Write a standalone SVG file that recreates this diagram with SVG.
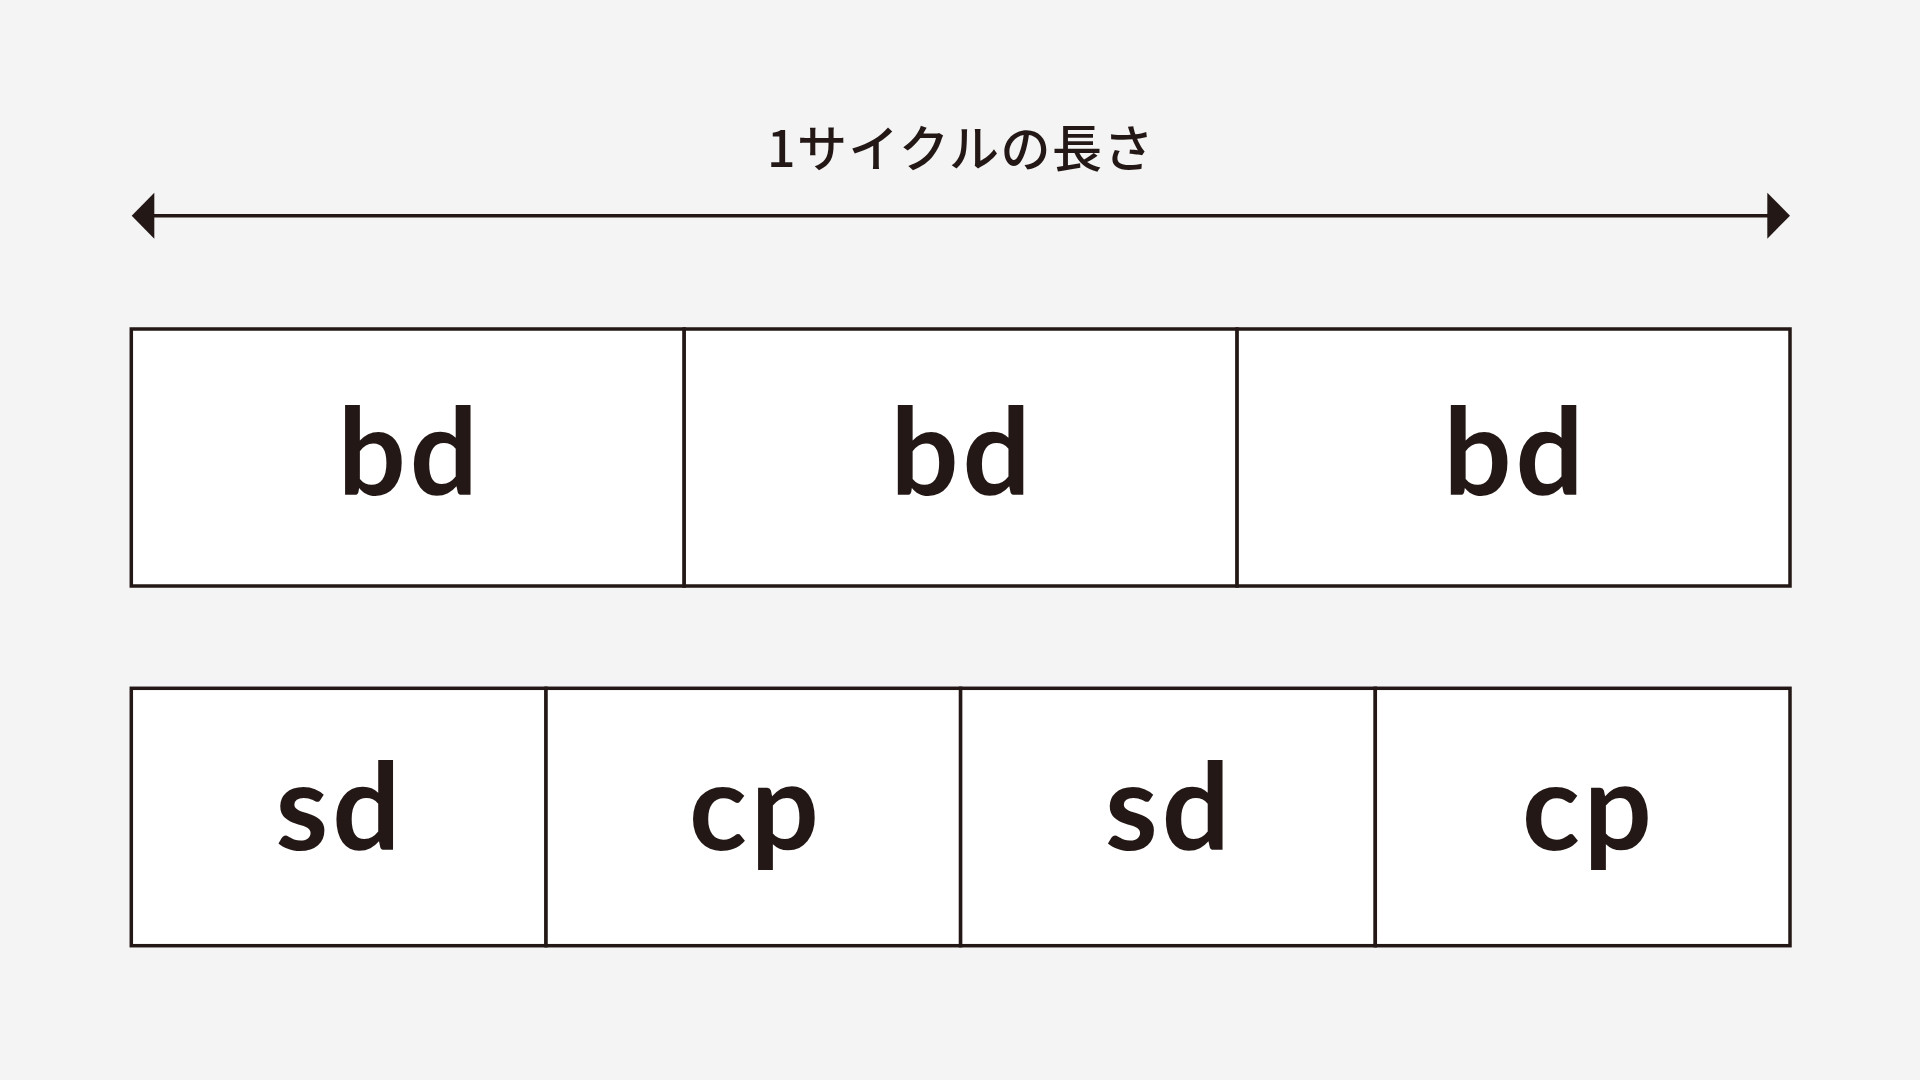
<svg xmlns="http://www.w3.org/2000/svg" width="1920" height="1080" viewBox="0 0 1920 1080">
  <style>
    .cell { fill: #ffffff; stroke: #231815; stroke-width: 3.5; }
    .lbl { font-family: Lato, "Noto Sans", "Liberation Sans", sans-serif; font-weight: 700; font-size: 120px; fill: #231815; text-anchor: middle; letter-spacing: 4px; }
    .title { font-family: "Noto Sans CJK JP", "Noto Sans", sans-serif; font-weight: 500; font-size: 50px; fill: #231815; text-anchor: middle; letter-spacing: 1.5px; }
    .conn { stroke: #231815; stroke-width: 3.5; fill: none; }
    .head { fill: #231815; }
  </style>
  <rect width="1920" height="1080" fill="#f4f4f4"/>

  <g id="title">
    <text class="title" x="961" y="167">1サイクルの長さ</text>
  </g>

  <g id="connectors">
    <line class="conn" x1="140" y1="215.7" x2="1782" y2="215.7"/>
    <polygon class="head" points="131.7,215.7 154.3,192.7 154.3,238.7"/>
    <polygon class="head" points="1790,215.7 1767.3,192.7 1767.3,238.7"/>
  </g>

  <g id="row1">
    <g id="bd1">
      <rect class="cell" x="131.3" y="329" width="552.9" height="257"/>
      <text class="lbl" x="409.8" y="495">bd</text>
    </g>
    <g id="bd2">
      <rect class="cell" x="684.2" y="329" width="552.9" height="257"/>
      <text class="lbl" x="962.6" y="495">bd</text>
    </g>
    <g id="bd3">
      <rect class="cell" x="1237.1" y="329" width="552.9" height="257"/>
      <text class="lbl" x="1515.5" y="495">bd</text>
    </g>
  </g>

  <g id="row2">
    <g id="sd1">
      <rect class="cell" x="131.3" y="688.3" width="414.7" height="257.4"/>
      <text class="lbl" x="340" y="850">sd</text>
    </g>
    <g id="cp1">
      <rect class="cell" x="546" y="688.3" width="414.6" height="257.4"/>
      <text class="lbl" x="756" y="850">cp</text>
    </g>
    <g id="sd2">
      <rect class="cell" x="960.6" y="688.3" width="414.7" height="257.4"/>
      <text class="lbl" x="1169.5" y="850">sd</text>
    </g>
    <g id="cp2">
      <rect class="cell" x="1375.3" y="688.3" width="414.7" height="257.4"/>
      <text class="lbl" x="1589" y="850">cp</text>
    </g>
  </g>
</svg>
